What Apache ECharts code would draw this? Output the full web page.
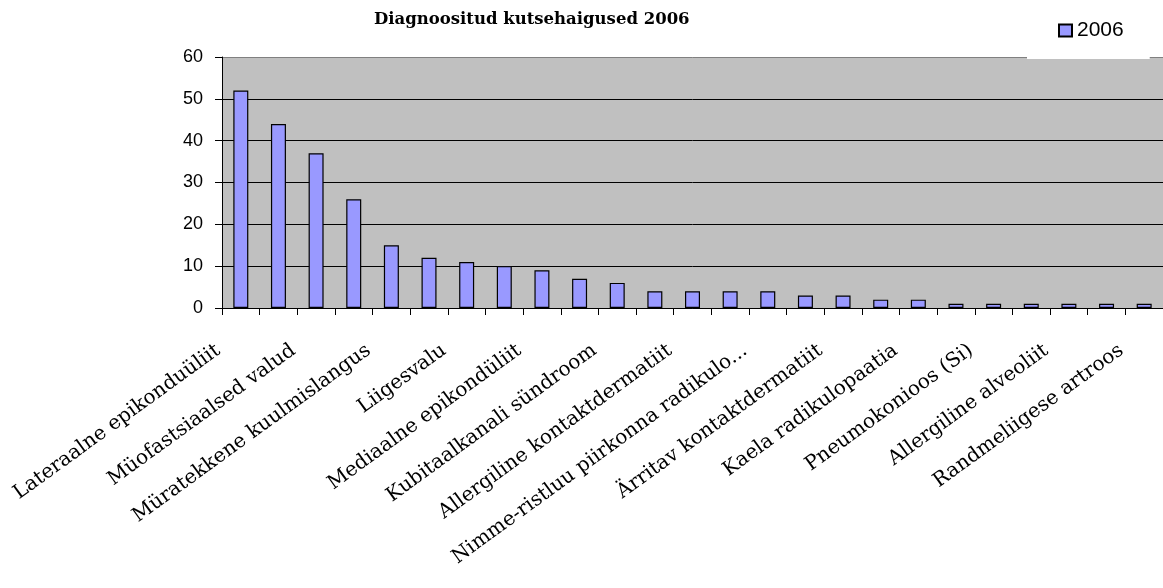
<!DOCTYPE html>
<html>
<head>
<meta charset="utf-8">
<script src="https://cdn.jsdelivr.net/npm/echarts@6/dist/echarts.min.js"></script>
<style>
html,body{margin:0;padding:0;background:#fff;}
#chart{width:1163px;height:588px;}
</style>
</head>
<body>
<div id="chart"></div>
<script>
const titleText = 'Diagnoositud kutsehaigused 2006';
const seriesName = '2006';
const categories = [
  'Lateraalne epikonduüliit',
  'Karpaaltunneli sündroom',
  'Müofastsiaalsed valud',
  'Õlaliigese periartriit',
  'Müratekkene kuulmislangus',
  'Tendovaginiit',
  'Liigesvalu',
  'Vibratsioonitõbi',
  'Mediaalne epikondüliit',
  'Kroonilne bronhiit',
  'Kubitaalkanali sündroom',
  'Bronhiaalastma',
  'Allergiline kontaktdermatiit',
  'Allergiline riniit',
  'Nimme-ristluu piirkonna radikulo...',
  'Õlavarreluu epikondüliit',
  'Ärritav kontaktdermatiit',
  'Põlveliigese artroos',
  'Kaela radikulopaatia',
  'Silikoos',
  'Pneumokonioos (Si)',
  'Raynaud sündroom',
  'Allergiline alveoliit',
  'Kroonilne larüngiit',
  'Randmeliigese artroos'
];
const values2006 = [52, 44, 37, 26, 15, 12, 11, 10, 9, 7, 6, 4, 4, 4, 4, 3, 3, 2, 2, 1, 1, 1, 1, 1, 1];
const yTicks = {min: 0, max: 60, interval: 10};

const chart = echarts.init(document.getElementById('chart'), null, {renderer: 'canvas'});
chart.setOption({
  animation: false,
  backgroundColor: '#ffffff',
  title: {
    text: titleText,
    left: 369,
    top: 6,
    textStyle: {fontFamily: 'DejaVu Serif', fontWeight: 'bold', fontSize: 16.5, color: '#000'}
  },
  legend: {
    data: [seriesName],
    left: 1027,
    top: 4,
    backgroundColor: '#ffffff',
    padding: [16, 26, 18, 31],
    itemWidth: 13,
    itemHeight: 12,
    icon: 'rect',
    textStyle: {fontFamily: 'Liberation Sans', fontSize: 21, color: '#000', lineHeight: 20}
  },
  grid: {left: 222, top: 57, width: 942, height: 251, containLabel: false, show: true, backgroundColor: '#c0c0c0', borderWidth: 0},
  xAxis: {
    type: 'category',
    data: categories,
    boundaryGap: true,
    axisLine: {show: true, lineStyle: {color: '#000', width: 1}},
    axisTick: {show: true, length: 7, inside: false, alignWithLabel: false, interval: 0, lineStyle: {color: '#000'}},
    axisLabel: {
      interval: 1,
      rotate: 36,
      margin: 24,
      padding: [0, 28, 0, 0],
      fontFamily: 'DejaVu Serif',
      fontSize: 20,
      color: '#000'
    },
    splitLine: {show: false}
  },
  yAxis: {
    type: 'value',
    min: yTicks.min,
    max: yTicks.max,
    interval: yTicks.interval,
    axisLine: {show: true, lineStyle: {color: '#000', width: 1}},
    axisTick: {show: true, length: 7, lineStyle: {color: '#000'}},
    axisLabel: {margin: 19, fontFamily: 'Liberation Sans', fontSize: 18, color: '#000'},
    splitLine: {show: true, lineStyle: {color: ['#000', '#000', '#000', '#000', '#000', '#000', '#808080'], width: 1}}
  },
  series: [{
    name: seriesName,
    type: 'bar',
    data: values2006,
    barWidth: 15,
    itemStyle: {color: '#9999ff', borderColor: '#000', borderWidth: 1.2}
  }]
});
</script>
</body>
</html>
